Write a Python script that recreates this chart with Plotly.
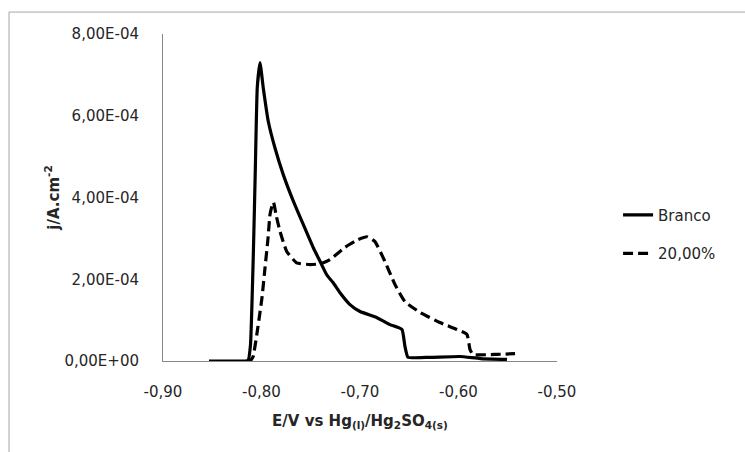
import plotly.graph_objects as go

# Branco (solid)
branco_E = [-0.8533, -0.8168, -0.8137, -0.8112, -0.8083, -0.8063, -0.8043, -0.8015,
            -0.7982, -0.7931, -0.7863, -0.7779, -0.7677, -0.7576, -0.7474, -0.7406,
            -0.7338, -0.7274, -0.7203, -0.7102, -0.7000, -0.6827, -0.6695, -0.6574,
            -0.6543, -0.6513, -0.6290, -0.5985, -0.5780, -0.5508]
branco_j = [0.0, 0.0, 0.01e-4, 0.39e-4, 2.60e-4, 4.66e-4, 6.69e-4, 7.30e-4,
            6.68e-4, 5.86e-4, 5.21e-4, 4.56e-4, 3.91e-4, 3.34e-4, 2.77e-4, 2.44e-4,
            2.11e-4, 1.92e-4, 1.67e-4, 1.38e-4, 1.21e-4, 1.06e-4, 0.89e-4, 0.77e-4,
            0.35e-4, 0.09e-4, 0.09e-4, 0.11e-4, 0.06e-4, 0.04e-4]

# 20,00% (dashed)
p20_E = [-0.8150, -0.8117, -0.8086, -0.8036, -0.7995, -0.7964, -0.7934, -0.7914, -0.7893,
         -0.7878, -0.7850, -0.7812, -0.7744, -0.7643, -0.7508, -0.7400, -0.7305, -0.7152,
         -0.7020, -0.6929, -0.6848, -0.6746, -0.6645, -0.6543, -0.6391, -0.6188, -0.6015,
         -0.5914, -0.5883, -0.5853, -0.5630, -0.5426]
p20_j = [0.0, 0.0, 0.10e-4, 0.84e-4, 1.55e-4, 2.29e-4, 3.00e-4, 3.58e-4, 3.80e-4,
         3.88e-4, 3.55e-4, 3.17e-4, 2.68e-4, 2.40e-4, 2.36e-4, 2.38e-4, 2.48e-4, 2.78e-4,
         2.97e-4, 3.04e-4, 2.92e-4, 2.43e-4, 1.87e-4, 1.45e-4, 1.19e-4, 0.94e-4, 0.77e-4,
         0.65e-4, 0.28e-4, 0.16e-4, 0.16e-4, 0.18e-4]

x_tickvals = [-0.9, -0.8, -0.7, -0.6, -0.5]
x_ticktext = ["-0,90", "-0,80", "-0,70", "-0,60", "-0,50"]
y_tickvals = [0, 2e-4, 4e-4, 6e-4, 8e-4]
y_ticktext = ["0,00E+00", "2,00E-04", "4,00E-04", "6,00E-04", "8,00E-04"]

FONT = "DejaVu Sans"
TXT = "#262626"

fig = go.Figure()
fig.add_trace(go.Scatter(x=branco_E, y=branco_j, mode="lines", name="Branco",
                         legendgroup="a",
                         line=dict(color="black", width=3.2, shape="spline", smoothing=0.4)))
fig.add_trace(go.Scatter(x=p20_E, y=p20_j, mode="lines", name="20,00%",
                         legendgroup="b",
                         line=dict(color="black", width=3.2, dash="10px,5px",
                                   shape="spline", smoothing=0.4)))

fig.update_layout(
    width=745, height=452,
    margin=dict(l=163, r=188, t=34, b=90.5),
    paper_bgcolor="white", plot_bgcolor="white",
    font=dict(family=FONT, size=15, color=TXT),
    showlegend=True,
    legend=dict(x=1.155, y=0.388, xanchor="left", yanchor="middle",
                font=dict(family=FONT, size=15, color=TXT),
                tracegroupgap=16, traceorder="grouped",
                bgcolor="rgba(0,0,0,0)"),
    xaxis=dict(range=[-0.9, -0.5], tickmode="array", tickvals=x_tickvals,
               ticktext=x_ticktext, showgrid=False, zeroline=False,
               showline=True, linecolor="#868686", linewidth=1, ticks="",
               ticklabelstandoff=17,
               tickfont=dict(family=FONT, size=15, color=TXT),
               title=dict(text="<b>E/V vs Hg<sub>(l)</sub>/Hg<sub>2</sub>SO<sub>4(s)</sub></b>",
                          font=dict(family=FONT, size=15, color=TXT), standoff=15)),
    yaxis=dict(range=[0, 8e-4], tickmode="array", tickvals=y_tickvals,
               ticktext=y_ticktext, showgrid=False, zeroline=False,
               showline=True, linecolor="#868686", linewidth=1, ticks="",
               ticklabelstandoff=20,
               tickfont=dict(family=FONT, size=15, color=TXT),
               title=dict(text="<b>j/A.cm<sup>-2</sup></b>",
                          font=dict(family=FONT, size=15, color=TXT), standoff=1)),
    shapes=[dict(type="rect", xref="paper", yref="paper",
                 x0=(9 - 163) / 394, x1=(800 - 163) / 394,
                 y0=(361.5 - 500) / 327.5, y1=(361.5 - 12) / 327.5,
                 line=dict(color="#a6a6a6", width=1), fillcolor="rgba(0,0,0,0)",
                 layer="below")],
)

fig.write_html("out.html")
